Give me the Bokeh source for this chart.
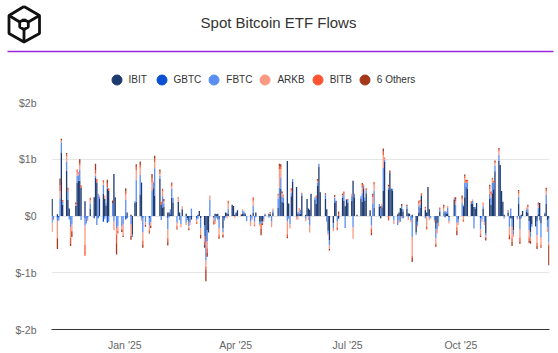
import numpy as np
import pandas as pd
from datetime import datetime
from bokeh.plotting import figure
from bokeh.layouts import column
from bokeh.models import (ColumnDataSource, Range1d, FixedTicker, DatetimeAxis, MonthsTicker,
                          DatetimeTickFormatter, Legend, LegendItem, Label)
from bokeh.embed import file_html
from bokeh.resources import INLINE

# ---------------- data ----------------
series = ["IBIT", "GBTC", "FBTC", "ARKB", "BITB", "6 Others"]
colors = ["#1d3a72", "#0b50d2", "#5a8ef0", "#fb9a82", "#fc5432", "#a5371d"]

first_monday = "2024-10-28"   # one line per week (Mon..Fri), daily net flows in $M

ibit = [
    0, 0, 0, 300, 0,
    30, 0, 0, 1120, 200,
    800, 280, 130, 0, 0,
    180, 580, 620, 620, 500,
    260, 0, 0, 0, 130,
    330, 680, 590, 0, 300,
    390, 300, 180, 480, 440,
    0, 740, 330, 0, 0,
    0, 0, 0, 0, 60,
    20, -330, 0, 230, 250,
    380, 590, 0, 0, 0,
    0, 0, 0, 490, 360,
    0, 650, 200, 150, 160,
    60, 60, 30, 320, 240,
    0, 250, 60, 0, 120,
    40, -40, -100, 0, -60,
    0, 0, 20, 90, -45,
    -160, -420, -250, -290, 0,
    -30, 40, 30, 40, -60,
    -220, 0, 60, 50, 40,
    200, 175, 20, 60, 100,
    20, 40, 50, 30, 0,
    20, 0, 60, 0, 60,
    -100, -100, -90, 0, 20,
    40, 30, 0, 60, 0,
    150, 0, 480, 250, 240,
    970, 220, 0, 350, 600,
    510, 40, 30, 40, 360,
    20, 300, 130, 110, 390,
    290, 220, 530, 870, 420,
    0, 300, 120, -260, -430,
    -130, 230, 270, 0, -50,
    320, 270, 170, 280, 240,
    270, 620, 330, 0, 20,
    300, 250, 490, 270, 400,
    100, 0, 0, 150, 0,
    160, -40, 150, 450, 950,
    460, 760, 480, 440, 0,
    30, 60, 140, 130, 80,
    130, 50, 40, 0, 20,
    -290, -100, 60, 140, 360,
    110, 60, 510, 120, 0,
    0, -220, -130, 0, 80,
    0, 60, 40, 50, -20,
    0, 280, 0, 0, -60,
    0, 170, 330, 520, 480,
    210, 210, 160, 130, 230,
    0, 0, 130, 0, -300,
    300, 200, 400, 470, 790,
    970, 900, 440, 250, 20,
    60, 0, -40, -30, -250,
    0, 210, -60, 20, 90,
    80, 60, -90, -290, -150,
    -180, -60, 30, 230, -130,
    40, 220, -80, -50, 0,
]

gbtc = [
    0, 0, 0, 0, 0,
    -30, -30, 0, 0, 0,
    0, 0, 0, 0, 0,
    0, 0, 0, 0, 0,
    -40, 0, 0, 0, 0,
    -40, 0, 0, -40, 0,
    -100, 0, 0, -120, 0,
    0, 0, 0, 0, 0,
    0, 0, 0, -60, -40,
    0, 0, 0, 0, 0,
    0, 0, -30, 0, 0,
    -40, 0, 0, 0, 0,
    0, 0, 0, 0, 0,
    -40, 0, 0, 0, 0,
    0, 0, 0, 0, 0,
    0, 0, 0, -20, 0,
    0, -40, 0, 0, 0,
    0, -40, 0, 0, 0,
    0, 0, 0, 0, 0,
    0, -40, 0, 0, 0,
    0, 0, 0, 0, 0,
    0, 0, 0, 0, 0,
    0, 0, 0, 0, 0,
    0, 0, 0, 0, 0,
    0, 0, 0, 0, 0,
    0, 0, 0, 0, 0,
    0, 0, 0, 0, 0,
    0, 0, 0, 0, 0,
    0, 0, 0, 0, 0,
    0, 0, 0, 0, 0,
    0, 0, 0, 0, 0,
    0, 0, 0, 0, 0,
    0, 0, 0, 0, 0,
    0, 0, 0, 0, 0,
    0, 0, 0, 0, 0,
    0, 0, 0, 0, 0,
    0, 0, 0, 0, 0,
    0, 0, 0, 0, 0,
    0, 0, 0, 0, -40,
    0, 0, 0, 0, -40,
    0, 0, 0, 0, 0,
    0, 0, 0, 0, 0,
    0, -20, 0, 0, 0,
    0, -20, 0, 0, 0,
    0, 0, 0, 0, 0,
    0, 0, 0, 0, 0,
    0, 0, 0, 0, 0,
    -40, 0, 0, 0, 0,
    0, 0, 0, 0, 0,
    0, 0, 0, 0, 0,
    0, 0, 0, -30, 0,
    0, 0, 0, 0, 0,
    0, 0, 0, 0, 0,
    0, -30, 0, 0, 0,
    0, 0, 0, 0, 0,
]

fbtc = [
    0, 0, 0, -120, -45,
    -60, -50, 310, 180, 50,
    160, 160, -60, -200, -150,
    0, 130, 100, 200, -70,
    -130, -130, -50, 0, 90,
    0, 30, -160, 390, 40,
    160, -50, 40, 30, -100,
    230, -100, 0, -210, -180,
    -190, -150, 0, 280, 0,
    -150, -40, 0, 30, 390,
    350, -50, -260, 0, -110,
    -130, -110, 440, 90, 480,
    0, 60, -70, 200, 60,
    -200, -20, 90, 160, 80,
    -120, 0, -70, -140, 0,
    -120, -30, -80, -100, 130,
    0, -30, -50, 0, -175,
    -200, -330, -190, 0, 280,
    0, -90, -30, -60, -150,
    -60, -40, -20, 0, 90,
    0, 0, 0, 0, 0,
    0, 50, 30, 20, -90,
    -100, -40, 120, -100, -20,
    -40, -40, -30, -60, 20,
    -30, 0, -100, 40, 0,
    150, 500, 200, 100, 80,
    -90, -50, -150, 60, 50,
    -20, 30, 30, 70, 30,
    -50, 0, 0, -160, 0,
    40, 100, 60, 50, 0,
    0, 80, -100, -50, -90,
    -80, 90, 0, -100, 0,
    30, 110, -210, 0, 60,
    80, -200, 60, 0, 0,
    50, 150, 40, 50, 50,
    0, -170, 220, 300, 0,
    50, 130, 40, 400, 40,
    40, 0, 0, 40, -80,
    -160, -80, -100, 40, 40,
    40, -30, 0, -70, -330,
    -40, -60, 110, 60, 0,
    -40, 0, 0, -40, -30,
    -70, -150, -110, -120, 40,
    80, 30, 30, 90, -70,
    0, 30, 200, -120, -60,
    230, 20, 250, 60, 100,
    20, 60, -220, 30, 0,
    -200, -60, 40, -110, -50,
    90, 120, 180, 120, 100,
    110, 0, 0, 0, -30,
    20, -200, 130, -130, -80,
    -40, 130, -180, -40, 0,
    40, 60, -160, -90, -40,
    -10, -250, 110, -80, -250,
    20, 150, -120, -420, 0,
]

arkb = [
    0, 0, 0, -160, 0,
    -300, 0, 130, 30, 0,
    90, 0, 0, -180, -120,
    30, 60, 30, 70, 0,
    -340, 0, -40, 0, 60,
    0, 40, 0, 0, 20,
    40, 60, 0, 0, 0,
    0, -150, 0, -110, -80,
    -50, -200, 0, 100, 0,
    -200, 0, 0, 0, 170,
    120, -40, -150, 0, -50,
    -80, -60, 150, 30, 110,
    0, 30, 0, 80, 40,
    -150, 0, 0, 50, 0,
    -60, 60, 0, -60, 50,
    -40, 0, -40, -40, 0,
    0, -40, 0, 0, -115,
    -100, -100, -130, 0, 80,
    -60, -50, 0, 0, -120,
    -50, 0, 0, -40, 90,
    0, 0, -30, 0, 0,
    0, 30, 0, 0, 0,
    -75, -30, 90, -60, 0,
    -30, 0, 0, -40, 0,
    0, 20, -100, 30, 0,
    70, 330, 150, 50, 60,
    -230, 0, -70, 40, 0,
    -40, -60, 80, 0, 0,
    -40, 0, -70, -130, 0,
    0, 0, 30, 0, 0,
    0, 0, 0, -30, -60,
    -60, 20, 0, -100, 0,
    20, 0, 0, 0, 0,
    40, -200, 0, 0, 0,
    0, 100, 30, 0, 0,
    0, -60, 110, 100, 0,
    0, 0, 30, 220, 20,
    20, 0, 0, 0, -60,
    0, -40, 0, -30, 0,
    0, -40, 0, -40, -330,
    0, -30, 60, 50, 0,
    30, -180, 0, -30, -20,
    -40, -100, -70, -60, 0,
    60, 0, 10, 40, -40,
    0, 20, 60, -80, -40,
    60, -60, 80, 0, 30,
    0, 20, 0, 0, 0,
    -80, -40, 50, -50, -30,
    80, 60, 60, 0, 40,
    60, 0, 0, 0, -20,
    0, -130, 0, -190, -40,
    -20, 60, -140, 0, 0,
    30, 40, -130, -60, 0,
    0, -130, 50, 0, -120,
    0, 60, -80, -20, 0,
]

bitb = [
    0, 0, 0, 0, 0,
    0, 0, 100, 0, 30,
    40, 40, 0, -100, 0,
    0, 50, 20, 40, 40,
    -190, 0, 0, 0, 40,
    0, 50, 60, 0, 0,
    40, 0, 0, 60, 50,
    0, 0, 0, -160, -50,
    0, 0, 0, 60, 0,
    0, 0, 0, 0, 60,
    50, 0, -60, 0, 0,
    -40, 0, 80, 0, 60,
    0, 40, 50, 50, 0,
    -60, 0, 0, 40, 0,
    -40, 20, 0, 0, 0,
    0, 0, 0, 0, 0,
    0, -30, 0, 0, 0,
    -40, -60, -80, 0, 0,
    -40, 0, 0, 0, -40,
    0, 0, 0, 0, 50,
    0, 0, 0, 0, 0,
    15, 0, 0, 0, 0,
    0, 0, 60, -20, 0,
    0, -90, -20, 0, 0,
    0, 20, 0, 0, 0,
    20, 50, 40, 0, 0,
    -50, 0, 0, 40, 0,
    0, 0, 0, 0, 20,
    0, 0, 0, 0, 0,
    0, 40, 0, 0, 0,
    0, 0, 0, 0, 0,
    0, 0, 0, -50, 40,
    0, 50, 0, 20, 0,
    0, 0, 0, 0, 0,
    0, 50, 0, 0, 40,
    0, -70, 40, 50, 0,
    0, 0, 0, 60, 20,
    -80, 0, 0, 0, 0,
    0, 0, 0, 0, 0,
    0, 0, 0, 0, -40,
    0, 0, 40, 30, 40,
    20, -60, 0, 0, 0,
    0, -20, 0, 0, 30,
    30, 0, 0, 0, 0,
    0, 0, 30, -60, 0,
    30, -40, 40, 30, 30,
    30, 0, 0, 0, 0,
    -30, 0, 20, 0, 0,
    50, 50, 30, 30, 20,
    30, 0, 0, 0, 0,
    20, -40, 0, -80, 0,
    0, 30, -80, 0, 0,
    0, 20, -50, 0, 0,
    0, -60, 30, 0, -40,
    0, 40, 0, -30, 0,
]

others = [
    0, 0, 0, 0, -15,
    -190, 0, 120, 30, 0,
    20, 20, 0, -50, -100,
    30, 0, 0, 70, 0,
    0, 0, 0, 0, 0,
    0, 120, 0, 0, 0,
    0, 0, 0, 70, 0,
    45, 0, 0, -200, 0,
    -40, -20, 0, 50, 0,
    -70, 0, 0, 0, 40,
    60, 0, -60, 0, -30,
    -20, -40, 70, 0, 50,
    0, 40, 0, 0, 40,
    -70, 0, 0, 20, 0,
    -20, 0, 0, 0, 0,
    0, 0, -30, 0, 0,
    0, 0, 0, 0, -60,
    -60, -200, -70, 0, 0,
    -20, 0, 0, 0, -30,
    -50, 0, 0, 0, 0,
    0, 0, 0, 0, 0,
    0, 0, 0, 0, 0,
    0, 0, 0, 0, 0,
    0, -110, -20, 0, 0,
    0, 0, 0, 0, 0,
    0, 40, 40, 30, 0,
    -20, 0, 0, 0, 0,
    0, 0, 0, 0, 0,
    0, 0, 0, 0, 0,
    0, 0, 30, 0, 0,
    0, 20, 0, 0, -30,
    0, 30, 0, 0, 40,
    20, 0, 0, 0, 0,
    0, 0, 0, 0, 0,
    0, 30, 0, 0, 0,
    0, -40, 20, 0, 0,
    0, 40, 0, 60, 0,
    30, 40, 0, 0, 0,
    0, 0, 0, 40, 0,
    30, 0, 0, 0, -70,
    0, 0, 0, 0, 0,
    0, 0, 0, 0, 0,
    0, -30, 0, 0, 0,
    30, 0, 0, 0, 0,
    0, 0, 40, -80, 0,
    40, 0, 30, 30, 0,
    0, 0, 0, 0, 0,
    -20, 0, 0, 0, -50,
    30, 0, 0, 0, 30,
    30, 0, 0, 0, 0,
    0, -40, 0, -70, 0,
    0, 30, -30, 0, 0,
    0, 20, -40, -50, 0,
    0, -50, 20, 0, -20,
    0, 30, 0, -350, 0,
]

y_ticks = [-2000, -1000, 0, 1000, 2000]
y_tick_labels = ["$-2b", "$-1b", "$0", "$1b", "$2b"]

# ---------------- build ----------------
flows = [ibit, gbtc, fbtc, arkb, bitb, others]
n = len(ibit)
dates = pd.bdate_range(start=first_monday, periods=n)

FONT = "Liberation Sans"

p = figure(width=558, height=258, x_axis_type="datetime", x_axis_location=None,
           x_range=Range1d(datetime(2024, 10, 30, 12), datetime(2025, 11, 13, 12)),
           y_range=Range1d(-2000, 2000),
           output_backend="svg", toolbar_location=None,
           min_border_left=51, min_border_right=9, min_border_top=7, min_border_bottom=22)
p.frame_align = False
p.outline_line_color = None
p.background_fill_color = "white"
p.border_fill_color = "white"
p.xgrid.visible = False

# the reference's date axis runs on its own scale under the bars
p.extra_x_ranges = {"lbl": Range1d(datetime(2024, 11, 2, 10, 48), datetime(2025, 12, 12, 0))}
xaxis = DatetimeAxis(x_range_name="lbl", ticker=MonthsTicker(months=[0, 3, 6, 9]),
                     formatter=DatetimeTickFormatter(months="%b '%y", years="%b '%y"))
xaxis.axis_line_color = "#333333"
xaxis.axis_line_width = 1
xaxis.major_tick_line_color = None
xaxis.minor_tick_line_color = None
xaxis.major_tick_out = 0
xaxis.major_tick_in = 0
xaxis.major_label_standoff = 9
xaxis.major_label_text_font = FONT
xaxis.major_label_text_font_size = "10.5px"
xaxis.major_label_text_color = "#666666"
p.add_layout(xaxis, "below")

yax = p.yaxis[0]
yax.ticker = FixedTicker(ticks=y_ticks)
yax.major_label_overrides = {t: s for t, s in zip(y_ticks, y_tick_labels)}
yax.axis_line_color = None
yax.major_tick_line_color = None
yax.minor_tick_line_color = None
yax.major_tick_out = 0
yax.major_tick_in = 0
yax.major_label_standoff = 15
yax.major_label_text_font = FONT
yax.major_label_text_font_size = "10.5px"
yax.major_label_text_color = "#666666"
p.ygrid.grid_line_color = "#e6e6e6"
p.ygrid.grid_line_width = 1

bar_w = 1.0 * 24 * 3600 * 1000
pos_base = np.zeros(n)
neg_base = np.zeros(n)
for name, col, vals in zip(series, colors, flows):
    v = np.asarray(vals, dtype=float)
    bottom = np.where(v >= 0, pos_base, neg_base + v)
    top = np.where(v >= 0, pos_base + v, neg_base)
    pos_base = pos_base + np.clip(v, 0, None)
    neg_base = neg_base + np.clip(v, None, 0)
    src = ColumnDataSource(dict(date=dates, top=top, bottom=bottom, flow=v))
    p.vbar(x="date", top="top", bottom="bottom", width=bar_w, source=src,
           fill_color=col, line_color=None)

# ---------------- header: logo, title, rule, legend ----------------
hdr = figure(width=558, height=95, x_range=Range1d(0, 558), y_range=Range1d(95, 0),
             x_axis_location=None, y_axis_location=None, output_backend="svg",
             toolbar_location=None, min_border=0)
hdr.frame_align = False
hdr.outline_line_color = None
hdr.xgrid.visible = False
hdr.ygrid.visible = False

logo_xs = [[23.5, 39, 39, 23.5, 8.5, 8.5, 23.5],
           [23.5, 27.8, 27.8, 23.5, 19.2, 19.2, 23.5],
           [8.5, 19.2], [39, 27.8], [23.5, 23.5]]
logo_ys = [[6, 15, 33, 41.5, 33, 15, 6],
           [19, 21.5, 26.5, 29, 26.5, 21.5, 19],
           [15, 21.5], [15, 21.5], [41.5, 29]]
hdr.multi_line(xs=logo_xs, ys=logo_ys, line_color="#111111", line_width=2.8)
hdr.segment(x0=[7], y0=[51], x1=[553], y1=[51], line_color="#9b26d9", line_width=1.5)
hdr.add_layout(Label(x=278, y=22, text="Spot Bitcoin ETF Flows", text_align="center",
                     text_baseline="middle", text_font=FONT, text_font_size="15px",
                     text_color="#333333"))

# legend swatches (one off-canvas point each, only their legend glyphs show)
dummies = [hdr.scatter(x=[-500], y=[-500], marker="circle", size=10, fill_color=c, line_color=c)
           for c in colors]
legend = Legend(items=[LegendItem(label=s, renderers=[r]) for s, r in zip(series, dummies)],
                orientation="horizontal", location=(103.5, 3.5),
                glyph_width=25, glyph_height=25, label_standoff=0, spacing=0,
                padding=0, margin=0, border_line_color=None, background_fill_alpha=0,
                label_text_font=FONT, label_text_font_size="10px",
                label_text_color="#333333")
hdr.add_layout(legend, "center")

layout = column(hdr, p, spacing=0)
open("out.html", "w").write(file_html(layout, INLINE))
